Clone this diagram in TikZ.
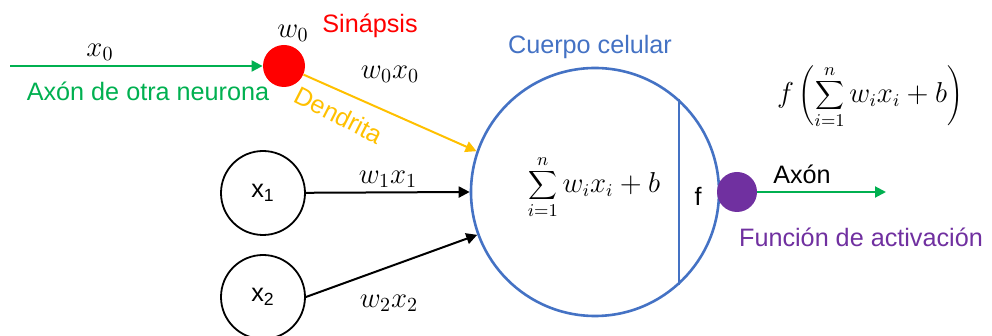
\documentclass[tikz,border=0pt]{standalone}
\usepackage{fontspec}
\setmainfont{Liberation Sans}
\usetikzlibrary{arrows.meta}
\definecolor{cgreen}{HTML}{00B050}
\definecolor{cred}{HTML}{FF0000}
\definecolor{cyellow}{HTML}{FFC000}
\definecolor{cblue}{HTML}{4472C4}
\definecolor{cpurple}{HTML}{7030A0}
\tikzset{
  px/.style={x=0.5pt,y=-0.5pt},
  lbl/.style={inner sep=0pt,font=\fontsize{12.6}{15}\selectfont},
  mlbl/.style={inner sep=0pt,font=\fontsize{14}{16}\selectfont},
  slbl/.style={inner sep=0pt,font=\fontsize{13.3}{16}\selectfont},
  arr/.style={line width=1pt,-{Triangle[length=5.5pt,width=5.5pt]}},
  inputnode/.style={circle,draw,line width=0.9pt,minimum size=42pt,inner sep=0pt,font=\fontsize{12.6}{15}\selectfont},
}
\begin{document}
\begin{tikzpicture}[px]
\useasboundingbox (0,0) rectangle (992,336);
% body
\node[circle,draw=cblue,line width=1.3pt,minimum size=124pt,inner sep=0pt] (body) at (595,192) {};
\draw[cblue,line width=1.3pt] (body.48.6) -- (body.-48.6);
\node[slbl] (sum) at (594,187) {$\displaystyle\sum_{i=1}^{n} w_i x_i + b$};
\node[lbl] (f) at (698,196) {f};
\node[lbl,text=cblue] (cuerpo) at (590,47) {Cuerpo celular};
% synapse
\node[circle,fill=cred,minimum size=21pt,inner sep=0pt] (syn) at (284,66) {};
\coordinate (src) at (10,66);
\draw[arr,cgreen] (src) -- (syn);
\node[mlbl] (x0) at (100,52) {$x_0$};
\node[lbl,text=cgreen] (axonotra) at (148,91) {Axón de otra neurona};
\node[mlbl] (w0) at (293,33) {$w_0$};
\node[lbl,text=cred] (sinap) at (370,26) {Sinápsis};
\draw[arr,cyellow] (syn) -- (body.161);
\node[mlbl] (w0x0) at (390,74) {$w_0x_0$};
\node[lbl,text=cyellow,rotate=-27] (dend) at (339,115) {Dendrita};
% inputs
\node[inputnode] (x1) at (263,193) {x\textsubscript{1}};
\node[inputnode] (x2) at (263,297) {x\textsubscript{2}};
\draw[arr] (x1) -- (body.180);
\draw[arr] (x2.east) -- (body.200);
\node[mlbl] (w1x1) at (388,179) {$w_1x_1$};
\node[mlbl] (w2x2) at (389,303) {$w_2x_2$};
% activation
\node[circle,fill=cpurple,minimum size=20pt,inner sep=0pt] (act) at (737,192) {};
\coordinate (out) at (886,192);
\draw[arr,cgreen] (act) -- (out);
\node[lbl] (axon) at (802,174) {Axón};
\node[lbl,text=cpurple] (func) at (861,237) {Función de activación};
\node[slbl] (formula) at (870,97) {$\displaystyle f\left(\sum_{i=1}^{n} w_i x_i + b\right)$};
\end{tikzpicture}
\end{document}
